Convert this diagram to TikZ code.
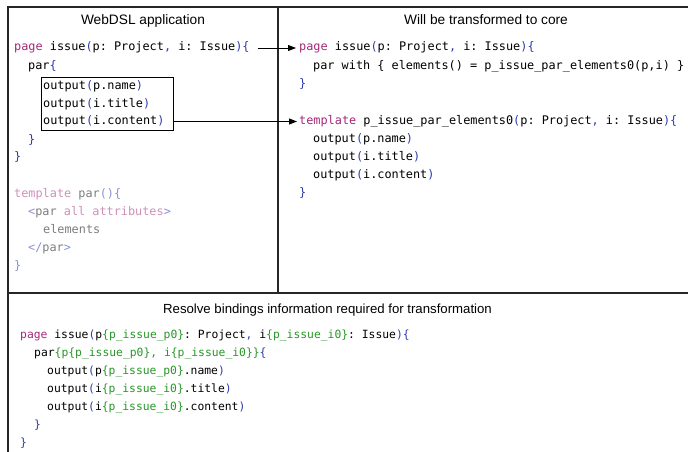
\documentclass[tikz,border=0pt]{standalone}
\usepackage{fontspec}
\setmainfont{Liberation Sans}
\setmonofont{DejaVu Sans Mono}
\usetikzlibrary{arrows.meta}

\definecolor{kwpink}{RGB}{165,40,120}
\definecolor{punblue}{RGB}{45,60,170}
\definecolor{bindgreen}{RGB}{40,150,40}
\definecolor{fadepink}{RGB}{205,145,185}
\definecolor{fadeblue}{RGB}{135,145,215}
\definecolor{fadegray}{RGB}{125,125,125}

\newcommand{\kw}[1]{\textcolor{kwpink}{#1}}
\newcommand{\pu}[1]{\textcolor{punblue}{#1}}
\newcommand{\bnd}[1]{\textcolor{bindgreen}{#1}}
\newcommand{\fkw}[1]{\textcolor{fadepink}{#1}}
\newcommand{\fpu}[1]{\textcolor{fadeblue}{#1}}

\begin{document}
\begin{tikzpicture}[x=1pt, y=-1pt,
  frame/.style={line width=1.2pt, black!85},
  head/.style={anchor=base, inner sep=0pt, font=\fontsize{13.7}{16}\selectfont},
  code/.style={anchor=west, inner sep=0pt, text height=9pt, text depth=3pt,
    font=\fontsize{11.85}{18}\ttfamily},
  smallcode/.style={code, font=\fontsize{11.35}{18}\ttfamily},
  faded/.style={code, text=fadegray},
  arr/.style={-{Triangle[length=8pt,width=6pt]}, line width=0.9pt}]

  % Page size and panel frame
  \useasboundingbox (0,0) rectangle (688,452);
  \draw[frame] (8,452) -- (8,7) -- (688,7);
  \draw[frame] (278,7) -- (278,293);
  \draw[frame] (8,293) -- (688,293);

  % Panel titles
  \node[head] (appttl) at (143,25) {WebDSL application};
  \node[head] (corettl) at (486,25) {Will be transformed to core};
  \node[head, font=\fontsize{13.2}{16}\selectfont] (bindttl) at (327.5,313.5) {Resolve bindings information required for transformation};

  % Left panel: the application code
  \node[code] (lpage) at (14,48) {\kw{page} issue\pu{(}p: Project\pu{,} i: Issue\pu{)\{}};
  \node[code] (lpar) at (28,67) {par\pu{\{}};
  \node[draw, line width=0.8pt, minimum width=132pt, minimum height=53pt,
    anchor=north west, inner sep=0pt] (outbox) at (41,77) {};
  \node[code] (lout1) at (43,86) {output\pu{(}p.name\pu{)}};
  \node[code] (lout2) at (43,104) {output\pu{(}i.title\pu{)}};
  \node[code] (lout3) at (43,121.5) {output\pu{(}i.content\pu{)}};
  \node[code] (lparend) at (28,140) {\pu{\}}};
  \node[code] (lpageend) at (14,157) {\pu{\}}};

  % Left panel: the built-in template (faded)
  \node[faded] (ftmpl) at (14,194) {\fkw{template} par\fpu{()\{}};
  \node[faded] (ftag) at (28,212) {\fpu{<}par \fkw{all attributes}\fpu{>}};
  \node[faded] (felem) at (43,230) {elements};
  \node[faded] (ftagend) at (28,248) {\fpu{</}par\fpu{>}};
  \node[faded] (ftmplend) at (14,266) {\fpu{\}}};

  % Right panel: core code
  \node[code] (rpage) at (299,48) {\kw{page} issue\pu{(}p: Project\pu{,} i: Issue\pu{)\{}};
  \node[code] (rwith) at (313,66.5) {par with \{ elements() = p\_issue\_par\_elements0(p,i) \}};
  \node[code] (rpageend) at (299,85) {\pu{\}}};
  \node[code] (rtmpl) at (299,121.5) {\kw{template} p\_issue\_par\_elements0\pu{(}p: Project\pu{,} i: Issue\pu{)\{}};
  \node[code] (rout1) at (313,139.5) {output\pu{(}p.name\pu{)}};
  \node[code] (rout2) at (313,157.5) {output\pu{(}i.title\pu{)}};
  \node[code] (rout3) at (313,175.5) {output\pu{(}i.content\pu{)}};
  \node[code] (rtmplend) at (299,193.5) {\pu{\}}};

  % Transformation arrows
  \draw[arr] ([xshift=8pt]lpage.east) -- ([xshift=-3pt]rpage.west);
  \draw[arr] (lout3 -| outbox.east) -- ([xshift=-2pt]rtmpl.west);

  % Bottom panel: code with resolved bindings
  \node[smallcode] (bpage) at (20,335) {\kw{page} issue\pu{(}p\bnd{\{p\_issue\_p0\}}: Project\pu{,} i\bnd{\{p\_issue\_i0\}}: Issue\pu{)\{}};
  \node[smallcode] (bpar) at (34,353) {par\bnd{\{p\{p\_issue\_p0\}, i\{p\_issue\_i0\}\}}\pu{\{}};
  \node[smallcode] (bout1) at (47,371) {output\pu{(}p\bnd{\{p\_issue\_p0\}}.name\pu{)}};
  \node[smallcode] (bout2) at (47,389) {output\pu{(}i\bnd{\{p\_issue\_i0\}}.title\pu{)}};
  \node[smallcode] (bout3) at (47,407) {output\pu{(}i\bnd{\{p\_issue\_i0\}}.content\pu{)}};
  \node[smallcode] (bparend) at (34,425) {\pu{\}}};
  \node[smallcode] (bpageend) at (20,443) {\pu{\}}};

\end{tikzpicture}
\end{document}
